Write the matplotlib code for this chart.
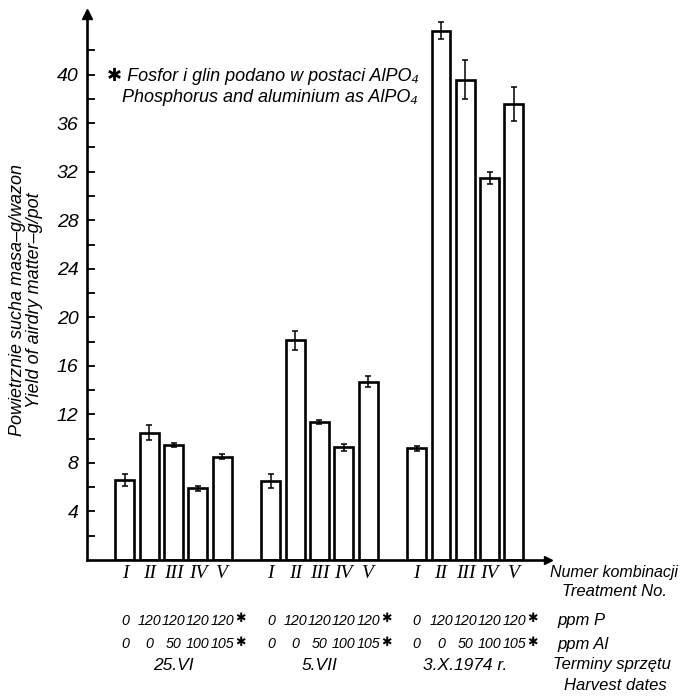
import numpy as np
import matplotlib
matplotlib.use('Agg')
import matplotlib.pyplot as plt
from matplotlib.transforms import blended_transform_factory

# plony suchej masy (g/wazon) i odchylenia dla trzech terminów zbioru
treatments = ['I', 'II', 'III', 'IV', 'V']
dates = ['25.VI', '5.VII', '3.X.1974 r.']
yield_jun = [6.6, 10.5, 9.5, 5.9, 8.5]
err_jun = [0.5, 0.6, 0.15, 0.2, 0.2]
yield_jul = [6.5, 18.1, 11.4, 9.3, 14.7]
err_jul = [0.6, 0.8, 0.15, 0.3, 0.45]
yield_oct = [9.2, 43.6, 39.6, 31.5, 37.6]
err_oct = [0.2, 0.7, 1.6, 0.5, 1.4]
ppm_p = ['0', '120', '120', '120', '120']
ppm_al = ['0', '0', '50', '100', '105']

yields = [yield_jun, yield_jul, yield_oct]
errs = [err_jun, err_jul, err_oct]

plt.rcParams['font.family'] = ['Liberation Sans', 'DejaVu Sans']
plt.rcParams['font.style'] = 'italic'

fig = plt.figure(figsize=(6.8, 6.96), dpi=100)
ax = fig.add_axes([87 / 680, 136 / 696, (548 - 87) / 680, (560 - 14) / 696])

for g in range(3):
    x = np.arange(5) + 6 * g
    ax.bar(x, yields[g], width=0.78, color='white', edgecolor='black', linewidth=1.9)
    ax.errorbar(x, yields[g], yerr=errs[g], fmt='none', ecolor='black',
                elinewidth=1.1, capsize=2.5, capthick=1.1)

ax.set_xlim(-1.56, 17.4)
ax.set_ylim(0, 45)
ax.spines['top'].set_visible(False)
ax.spines['right'].set_visible(False)
ax.spines['left'].set_linewidth(1.9)
ax.spines['bottom'].set_linewidth(1.9)
ax.plot(0, 1, '^', color='black', markersize=7, transform=ax.transAxes, clip_on=False)
ax.plot(1, 0, '>', color='black', markersize=6, transform=ax.transAxes, clip_on=False)

ax.set_xticks([])
ax.set_yticks(np.arange(4, 41, 4))
ax.set_yticks(np.arange(2, 43, 2), minor=True)
ax.tick_params(axis='y', which='both', direction='in', length=6, width=1.3, pad=6,
               labelsize=14)
ax.set_yticklabels([str(v) for v in range(4, 41, 4)])

fig.text(26 / 680, 1 - 300 / 696,
         'Powietrznie sucha masa–g/wazon\nYield of airdry matter–g/pot',
         rotation=90, ha='center', va='center', fontsize=13, linespacing=1.0)

fig.text(107 / 680, 1 - 76 / 696, '✱ Fosfor i glin podano w postaci AlPO₄',
         ha='left', va='center', fontsize=13)
fig.text(122 / 680, 1 - 97 / 696, 'Phosphorus and aluminium as AlPO₄',
         ha='left', va='center', fontsize=13)

# opis osi x: numery kombinacji, dawki P i Al, terminy zbioru
tr = blended_transform_factory(ax.transData, fig.transFigure)
def fy(py):
    return 1 - py / 696

for g in range(3):
    x0 = 6 * g
    for i in range(5):
        ax.text(x0 + i, fy(574), treatments[i], transform=tr, ha='center', va='center',
                fontsize=14, family='Liberation Serif', style='italic')
        ax.text(x0 + i, fy(621), ppm_p[i], transform=tr, ha='center', va='center',
                fontsize=10.3)
        ax.text(x0 + i, fy(644), ppm_al[i], transform=tr, ha='center', va='center',
                fontsize=10.3)
    ax.text(x0 + 4.77, fy(619), '✱', transform=tr, ha='center', va='center',
            fontsize=9, family='DejaVu Sans')
    ax.text(x0 + 4.77, fy(642), '✱', transform=tr, ha='center', va='center',
            fontsize=9, family='DejaVu Sans')
    ax.text(x0 + 2, fy(665), dates[g], transform=tr, ha='center', va='center',
            fontsize=12.5)

fig.text(550 / 680, fy(573), 'Numer kombinacji', ha='left', va='center', fontsize=11.5)
fig.text(667 / 680, fy(592), 'Treatment No.', ha='right', va='center', fontsize=12)
fig.text(557 / 680, fy(621), 'ppm P', ha='left', va='center', fontsize=12)
fig.text(557 / 680, fy(644), 'ppm Al', ha='left', va='center', fontsize=12)
fig.text(553 / 680, fy(665), 'Terminy sprzętu', ha='left', va='center', fontsize=12)
fig.text(667 / 680, fy(685), 'Harvest dates', ha='right', va='center', fontsize=12)

fig.savefig('out.png', dpi=100)
